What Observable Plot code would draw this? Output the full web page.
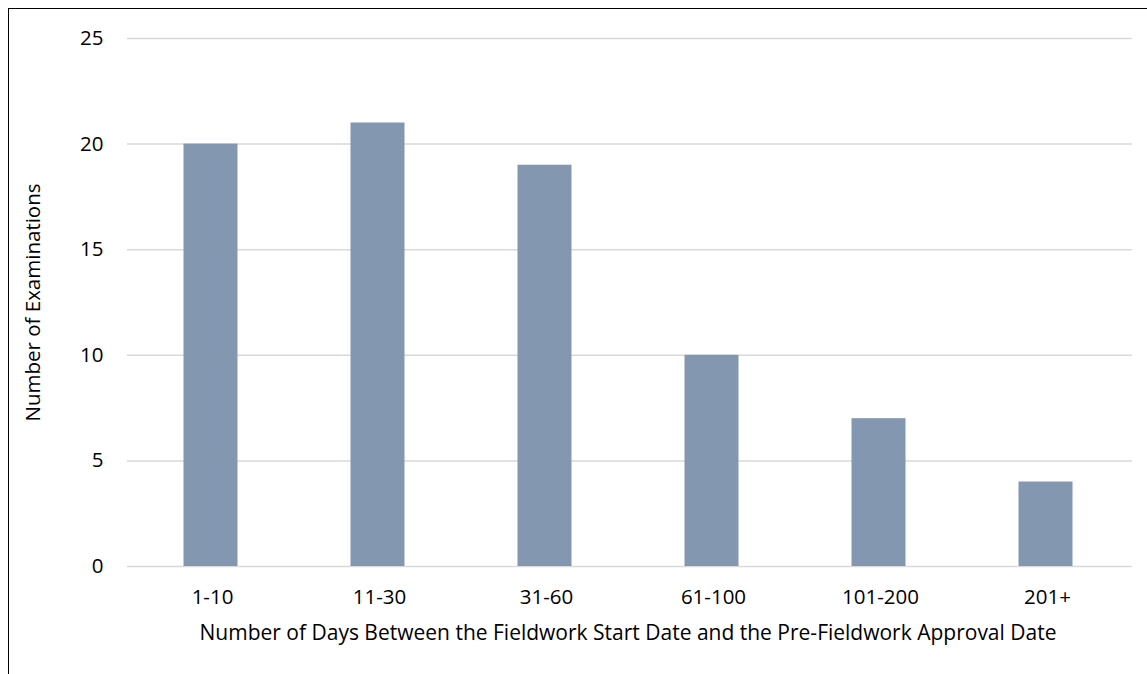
<!DOCTYPE html>
<html>
<head>
<meta charset="utf-8">
<script src="https://cdn.jsdelivr.net/npm/d3@7"></script>
<script src="https://cdn.jsdelivr.net/npm/@observablehq/plot@0.6"></script>
<style>
  html, body { margin: 0; padding: 0; background: #fff; }
  #frame { position: absolute; left: 8px; top: 8px; width: 1139px; height: 666px;
           border-left: 1px solid #000; border-top: 1px solid #000; }
  #chart { position: absolute; left: 0; top: 0; }
</style>
</head>
<body>
<div id="frame"><div id="chart"></div></div>
<script>
const categories = ["1-10", "11-30", "31-60", "61-100", "101-200", "201+"];
const counts = [20, 21, 19, 10, 7, 4];
const yTicks = [0, 5, 10, 15, 20, 25];
const xTitle = "Number of Days Between the Fieldwork Start Date and the Pre-Fieldwork Approval Date";
const yTitle = "Number of Examinations";

const data = categories.map((c, i) => ({category: c, value: counts[i]}));

const fs = 20.5;
const chart = Plot.plot({
  width: 1138,
  height: 665,
  marginLeft: 118,
  marginRight: 15,
  marginTop: 29,
  marginBottom: 108,
  style: {fontFamily: "'Open Sans', 'Noto Sans', sans-serif", fontSize: fs + "px", color: "#000", background: "transparent"},
  x: {domain: categories, paddingInner: 0.678, paddingOuter: 0.339, label: null},
  y: {domain: [0, 25], label: null},
  marks: [
    Plot.gridY(yTicks, {stroke: "#D9D9D9", strokeOpacity: 1, strokeWidth: 1.5}),
    Plot.barY(data, {x: "category", y: "value", fill: "#8497B0", dx: -1.5}),
    Plot.axisY(yTicks, {tickSize: 0, tickPadding: 24, fontSize: fs, label: null}),
    Plot.axisX({tickSize: 0, tickPadding: 23, fontSize: fs, label: null}),
    Plot.text([xTitle], {frameAnchor: "bottom", dx: -2, dy: 67, fontSize: 21, textAnchor: "middle", lineAnchor: "middle"}),
    Plot.text([yTitle], {frameAnchor: "left", dx: -94, rotate: -90, fontSize: fs, textAnchor: "middle", lineAnchor: "middle"})
  ]
});
document.getElementById("chart").appendChild(chart);
</script>
</body>
</html>
